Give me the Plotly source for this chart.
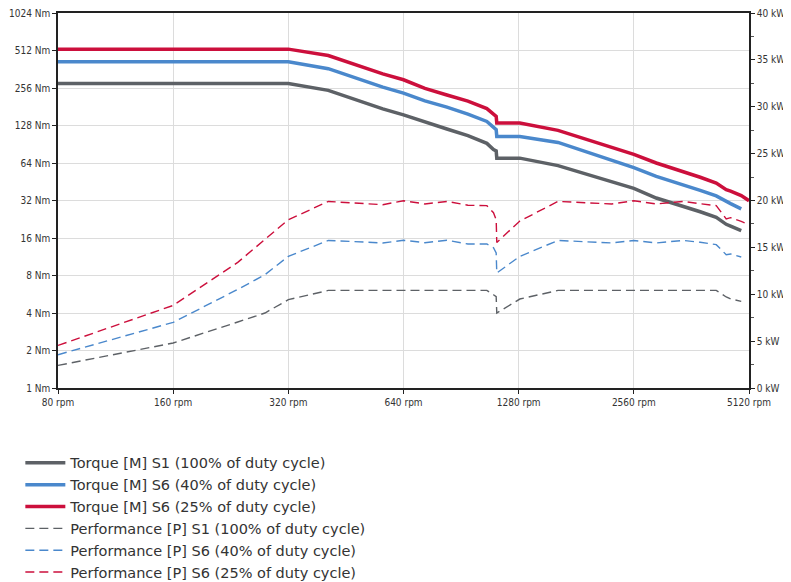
import plotly.graph_objects as go

# ---- data ----
rpm = [80, 160, 236, 278, 320, 407, 565, 640, 728, 831, 943, 1057, 1100, 1118, 1122,
       1289, 1622, 2240, 2560, 2930, 3440, 3817, 4204, 4464, 4583, 4886, 5120]

torque_s1 = [278, 278, 278, 278, 278, 245, 174, 156, 136, 120, 106, 92, 82, 80, 70,
             70, 61, 45, 40, 33.5, 29, 26, 23.4, 20.6, 19.9, 18.3]
torque_s6_40 = [416, 416, 416, 416, 416, 366, 260, 233, 202, 180, 158, 138, 122, 118.5, 104.6,
                104.6, 93.6, 66.8, 58.7, 50, 42.9, 38.6, 34.8, 31.3, 30.2, 27.4]
torque_s6_25 = [525, 525, 525, 525, 525, 467, 332, 298, 254, 225, 201, 175, 156, 151.5, 134,
                134, 117, 85, 75, 64, 55, 49.2, 44.2, 39.1, 38, 35, 31.9]

power_s1 = [2.41, 4.8, 7.04, 8.0, 9.42, 10.41, 10.41, 10.41, 10.41, 10.41, 10.41, 10.41, 9.95, 9.74, 8.0,
            9.49, 10.41, 10.41, 10.41, 10.41, 10.41, 10.41, 10.41, 9.71, 9.5, 9.24]
power_s6_40 = [3.55, 7.0, 10.52, 12.09, 14.04, 15.74, 15.47, 15.76, 15.5, 15.76, 15.36, 15.36, 14.97, 14.4, 12.27,
               14.04, 15.74, 15.47, 15.74, 15.47, 15.74, 15.55, 15.29, 14.22, 14.3, 13.97]
power_s6_25 = [4.54, 8.81, 13.4, 15.85, 17.95, 19.9, 19.55, 19.98, 19.63, 19.9, 19.5, 19.45, 18.7, 17.95, 15.53,
               17.81, 19.9, 19.63, 19.98, 19.63, 19.9, 19.66, 19.45, 18.03, 18.17, 17.77, 17.42]

x_ticks = [80, 160, 320, 640, 1280, 2560, 5120]
y_ticks = [1, 2, 4, 8, 16, 32, 64, 128, 256, 512, 1024]
y2_ticks = [0, 5, 10, 15, 20, 25, 30, 35, 40]

names = ["Torque [M] S1 (100% of duty cycle)",
         "Torque [M] S6 (40% of duty cycle)",
         "Torque [M] S6 (25% of duty cycle)",
         "Performance [P] S1 (100% of duty cycle)",
         "Performance [P] S6 (40% of duty cycle)",
         "Performance [P] S6 (25% of duty cycle)"]

GRAY = "#5d6166"
BLUE = "#4a88cc"
RED = "#cc0f3c"

fig = go.Figure()
for vals, col, nm in [(torque_s1, GRAY, names[0]), (torque_s6_40, BLUE, names[1]), (torque_s6_25, RED, names[2])]:
    fig.add_trace(go.Scatter(x=rpm[:len(vals)], y=vals, mode="lines", name=nm,
                             line=dict(color=col, width=3.5), yaxis="y"))
for vals, col, nm in [(power_s1, GRAY, names[3]), (power_s6_40, BLUE, names[4]), (power_s6_25, RED, names[5])]:
    fig.add_trace(go.Scatter(x=rpm[:len(vals)], y=vals, mode="lines", name=nm,
                             line=dict(color=col, width=1.4, dash="9px,5px"), yaxis="y2"))

tick_font = dict(family="Liberation Sans Narrow, DejaVu Sans Condensed, Liberation Sans, sans-serif",
                 size=10, color="#333")

fig.update_layout(
    width=783, height=574,
    margin=dict(l=50, r=42, t=5, b=194, autoexpand=False),
    plot_bgcolor="white", paper_bgcolor="white",
    showlegend=True,
    legend=dict(x=-0.0545, y=-0.157, xanchor="left", yanchor="top",
                font=dict(family="DejaVu Sans, sans-serif", size=14.5, color="#333"),
                itemwidth=40, tracegroupgap=0, bgcolor="rgba(0,0,0,0)"),
    xaxis=dict(type="log", range=[1.90309, 3.70927], tickvals=x_ticks,
               ticktext=[f"{v} rpm" for v in x_ticks], tickfont=tick_font,
               showgrid=True, gridcolor="#dcdcdc", gridwidth=1,
               showline=True, linecolor="#222", linewidth=1.5, mirror=True,
               ticks="outside", ticklen=4, tickcolor="#222", zeroline=False,
               ticklabeloverflow="allow"),
    yaxis=dict(type="log", range=[0, 3.0103], tickvals=y_ticks,
               ticktext=[f"{v} Nm" for v in y_ticks], tickfont=tick_font,
               showgrid=True, gridcolor="#dcdcdc", gridwidth=1,
               showline=True, linecolor="#222", linewidth=1.5,
               ticks="outside", ticklen=4, tickcolor="#222", zeroline=False,
               ticklabeloverflow="allow"),
    yaxis2=dict(overlaying="y", side="right", range=[0, 40], tickvals=y2_ticks,
                ticktext=[f"{v} kW" for v in y2_ticks], tickfont=tick_font,
                showgrid=False, showline=True, linecolor="#222", linewidth=1.5,
                ticks="outside", ticklen=4, tickcolor="#222", zeroline=False,
                ticklabeloverflow="allow",
                minor=dict(dtick=2.5, ticks="outside", ticklen=3, tickcolor="#555")),
)

fig.write_html("out.html")
